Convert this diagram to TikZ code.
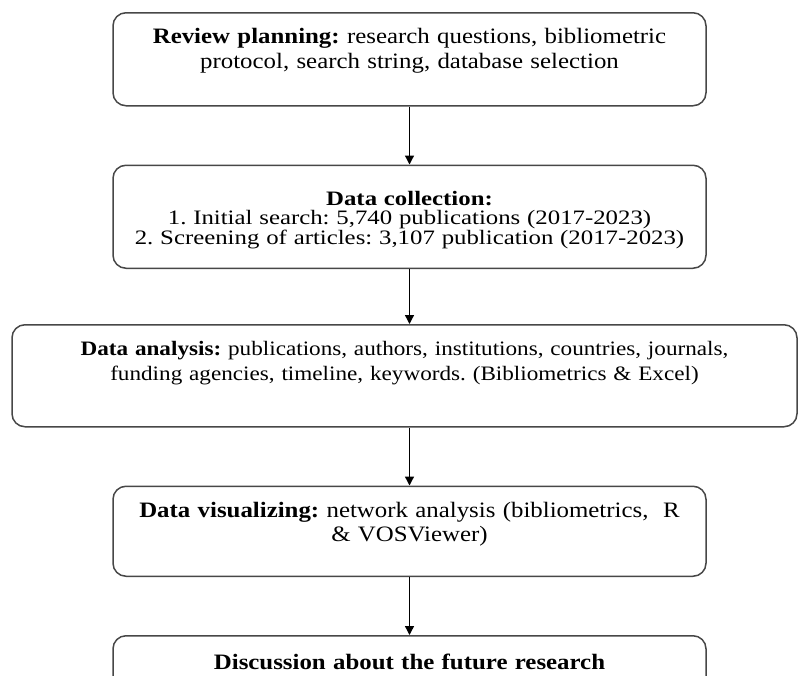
\documentclass[tikz,border=0pt]{standalone}
\usepackage{fontspec}
\setmainfont[FakeStretch=1.13]{Liberation Serif}
\newfontfamily\widefont[FakeStretch=1.21]{Liberation Serif}
\usetikzlibrary{arrows.meta,positioning}
\frenchspacing

\begin{document}
\begin{tikzpicture}[
    stage/.style={rectangle, draw=black!72, line width=1.5pt, rounded corners=13pt, inner sep=0pt, text width=593pt, align=center},
    arrow/.style={-{Triangle[length=9pt,width=9pt]}, line width=1.3pt}
]
\useasboundingbox (0,0) rectangle (798pt,-675pt);
\clip (0,0) rectangle (798pt,-675pt);
\node (plan) [stage, anchor=north, text height=31pt, text depth=62pt, font=\fontsize{22}{25}\selectfont] at (409.5pt,-12pt)
    {\textbf{Review planning:} research questions, bibliometric\\ protocol, search string, database selection};
\node (collect) [stage, below=58pt of plan, text height=40pt, text depth=63pt, font=\widefont\fontsize{20.5}{19.5}\selectfont]
    {\textbf{Data collection:}\\ 1. Initial search: 5,740 publications (2017-2023)\\ 2. Screening of articles: 3,107 publication (2017-2023)};
\node (analysis) [stage, below=55pt of collect, xshift=-5pt, text width=785pt, text height=31pt, text depth=71pt, font=\fontsize{20.5}{25}\selectfont]
    {\textbf{Data analysis:} publications, authors, institutions, countries, journals,\\ funding agencies, timeline, keywords. (Bibliometrics \& Excel)};
\node (visual) [stage, below=58pt of analysis, xshift=5pt, text height=31pt, text depth=59pt, font=\fontsize{22}{24}\selectfont]
    {\textbf{Data visualizing:} network analysis (bibliometrics,~~R\\ \& VOSViewer)};
\node (future) [stage, below=58pt of visual, text height=34pt, text depth=60pt, font=\fontsize{22}{25}\selectfont]
    {\textbf{Discussion about the future research}};
\draw[arrow] (plan) -- (collect);
\draw[arrow] (collect.south) -- (collect.south |- analysis.north);
\draw[arrow] (visual.north |- analysis.south) -- (visual.north);
\draw[arrow] (visual) -- (future);
\end{tikzpicture}
\end{document}
